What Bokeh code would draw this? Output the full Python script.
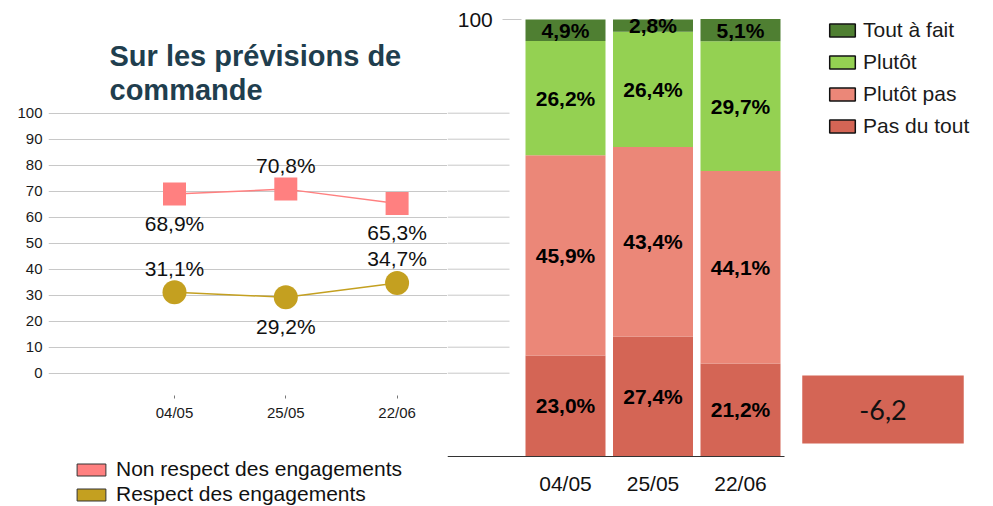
from bokeh.plotting import figure
from bokeh.models import (Range1d, FixedTicker, ColumnDataSource, Legend, LegendItem, Label)
from bokeh.layouts import row
from bokeh.embed import file_html
from bokeh.resources import INLINE
from bokeh.core.properties import value

# ---------------- data ----------------
dates = ["04/05", "25/05", "22/06"]
non_respect = [68.9, 70.8, 65.3]
respect = [31.1, 29.2, 34.7]
non_respect_side = ["below", "above", "below"]
respect_side = ["above", "below", "above"]
left_ticks = [0, 10, 20, 30, 40, 50, 60, 70, 80, 90, 100]
line_series = ["Non respect des engagements", "Respect des engagements"]

bar_series = ["Pas du tout", "Plutôt pas", "Plutôt", "Tout à fait"]
pas_du_tout = [23.0, 27.4, 21.2]
plutot_pas = [45.9, 43.4, 44.1]
plutot = [26.2, 26.4, 29.7]
tout_a_fait = [4.9, 2.8, 5.1]
bar_ticks = [100]
delta_pas_du_tout = -6.2

title_lines = ["Sur les prévisions de", "commande"]

# ---------------- style ----------------
FONT = "Liberation Sans"
C_NR = "#ff8080"
C_R = "#c4a020"
BAR_COLORS = ["#d46555", "#eb8778", "#94d152", "#4f7f32"]
GRID = "#c8c8c8"
TITLE_C = "#1f3e4e"
NAN = float("nan")

H = 506
WA, WB = 447, 545
PAGE_TOP, PAGE_BOTTOM = 0, H


def fmt(v):
    return f"{v:.1f}".replace(".", ",") + "%"


# ---- left chart geometry (page px) ----
L_ZERO, L_UNIT = 372.7, 2.6
L_X0, L_STEP = 174.0, 111.3
A_LEFT, A_RIGHT = 48, WA
ly = Range1d((L_ZERO - PAGE_BOTTOM) / L_UNIT, (L_ZERO - PAGE_TOP) / L_UNIT)
lx = Range1d((A_LEFT - L_X0) / L_STEP, (A_RIGHT - L_X0) / L_STEP)

A = figure(width=WA, height=H, x_range=lx, y_range=ly, output_backend="svg",
           toolbar_location=None, min_border_left=A_LEFT, min_border_right=0,
           min_border_top=0, min_border_bottom=0)
A.outline_line_color = None
A.xgrid.visible = False
A.ygrid.ticker = FixedTicker(ticks=left_ticks)
A.ygrid.grid_line_color = GRID

A.yaxis.ticker = FixedTicker(ticks=left_ticks)
A.yaxis.axis_line_color = None
A.yaxis.major_tick_line_color = None
A.yaxis.minor_tick_line_color = None
A.yaxis.major_tick_out = 0
A.yaxis.major_tick_in = 0
A.yaxis.major_label_standoff = 6
A.yaxis.major_label_text_font = FONT
A.yaxis.major_label_text_font_size = "15px"
A.yaxis.major_label_text_color = "#1a1a1a"

xi = list(range(len(dates)))
A.xaxis.fixed_location = (L_ZERO - 395) / L_UNIT
A.xaxis.ticker = FixedTicker(ticks=xi)
A.xaxis.major_label_overrides = {i: d for i, d in zip(xi, dates)}
A.xaxis.axis_line_color = None
A.xaxis.minor_tick_line_color = None
A.xaxis.major_tick_in = 0
A.xaxis.major_tick_out = 3
A.xaxis.major_tick_line_color = "#777777"
A.xaxis.major_label_standoff = 5
A.xaxis.major_label_text_font = FONT
A.xaxis.major_label_text_font_size = "15px"
A.xaxis.major_label_text_color = "#1a1a1a"

A.line(xi, non_respect, line_color=C_NR, line_width=1.5)
A.scatter(xi, non_respect, marker="square", size=23, fill_color=C_NR, line_color=None)
A.line(xi, respect, line_color=C_R, line_width=1.5)
A.scatter(xi, respect, marker="circle", size=24, fill_color=C_R, line_color=None)

OFF = {"above": -24, "below": 29}
lab = ColumnDataSource(dict(
    x=xi + xi,
    y=non_respect + respect,
    t=[fmt(v) for v in non_respect + respect],
    dy=[OFF[s] for s in non_respect_side + respect_side],
))
A.text("x", "y", text="t", y_offset="dy", source=lab, text_font=value(FONT),
       text_font_size="21px", text_align="center", text_baseline="middle",
       text_color="#111111")

for line, base in zip(title_lines, [55, 89]):
    A.add_layout(Label(x=109 - A_LEFT, y=PAGE_BOTTOM - base, x_units="screen", y_units="screen",
                       text=line, text_font=FONT, text_font_size="29px",
                       text_font_style="bold", text_color=TITLE_C,
                       text_baseline="alphabetic"))

dummy_a = []
for name, c in zip(line_series, [C_NR, C_R]):
    r = A.quad(left=[NAN], right=[NAN], top=[NAN], bottom=[NAN], fill_color=c,
               line_color="#333333", line_width=1)
    dummy_a.append(LegendItem(label=name, renderers=[r]))
leg_a = Legend(items=dummy_a, location=(73 - A_LEFT, 0), orientation="vertical",
               glyph_width=36, glyph_height=15, label_height=24, spacing=1,
               label_standoff=7, padding=0, margin=0, border_line_color=None,
               background_fill_alpha=0, label_text_font=FONT,
               label_text_font_size="21px", label_text_color="#111111")
A.add_layout(leg_a)

# ---- bar chart geometry (page px) ----
B_X0, B_STEP = 565.0, 87.5
B_ZERO, B_UNIT = 455.5, 4.365
B_LEFT, B_RIGHT = WA, WA + WB
bx = Range1d((B_LEFT - B_X0) / B_STEP, (B_RIGHT - B_X0) / B_STEP)
by = Range1d((B_ZERO - PAGE_BOTTOM) / B_UNIT, (B_ZERO - PAGE_TOP) / B_UNIT)

B = figure(width=WB, height=H, x_range=bx, y_range=by, output_backend="svg",
           toolbar_location=None, min_border_left=0, min_border_right=0,
           min_border_top=0, min_border_bottom=0)
B.outline_line_color = None
B.xgrid.visible = False
B.ygrid.visible = False

# continuation of the left chart's grid lines
B.extra_y_ranges = {"ly": Range1d(ly.start, ly.end)}
GRID_STUB_END = (509 - B_X0) / B_STEP
B.segment(x0=[bx.start] * len(left_ticks), x1=[GRID_STUB_END] * len(left_ticks),
          y0=left_ticks, y1=left_ticks, y_range_name="ly", line_color=GRID, line_width=1)

keys = ["pdt", "pp", "p", "taf"]
bsrc = ColumnDataSource(dict(x=xi, pdt=pas_du_tout, pp=plutot_pas, p=plutot, taf=tout_a_fait))
B.vbar_stack(keys, x="x", width=80 / B_STEP, color=BAR_COLORS, line_color=None, source=bsrc)

lx_, ly_, lt_ = [], [], []
series_vals = [pas_du_tout, plutot_pas, plutot, tout_a_fait]
for i in xi:
    bottom = 0.0
    for vals in series_vals:
        v = vals[i]
        lx_.append(i)
        ly_.append(bottom + v / 2)
        lt_.append(fmt(v))
        bottom += v
B.text(lx_, ly_, text=lt_, text_font=value(FONT), text_font_size="21px",
       text_font_style="bold", text_align="center", text_baseline="middle",
       text_color="#000000")

B.xaxis.fixed_location = 0
B.xaxis.bounds = (bx.start, len(dates) - 0.5)
B.xaxis.ticker = FixedTicker(ticks=xi)
B.xaxis.major_label_overrides = {i: d for i, d in zip(xi, dates)}
B.xaxis.axis_line_color = "#333333"
B.xaxis.axis_line_width = 1
B.xaxis.major_tick_line_color = None
B.xaxis.minor_tick_line_color = None
B.xaxis.major_label_standoff = 10
B.xaxis.major_label_text_font = FONT
B.xaxis.major_label_text_font_size = "21px"
B.xaxis.major_label_text_color = "#111111"

B.yaxis.fixed_location = -0.5
B.yaxis.ticker = FixedTicker(ticks=bar_ticks)
B.yaxis.axis_line_color = None
B.yaxis.minor_tick_line_color = None
B.yaxis.major_tick_in = 0
B.yaxis.major_tick_out = 19
B.yaxis.major_tick_line_color = GRID
B.yaxis.major_label_standoff = 10
B.yaxis.major_label_text_font = FONT
B.yaxis.major_label_text_font_size = "21px"
B.yaxis.major_label_text_color = "#111111"

items_b = []
for name, c in zip(bar_series[::-1], BAR_COLORS[::-1]):
    r = B.quad(left=[NAN], right=[NAN], top=[NAN], bottom=[NAN], fill_color=c,
               line_color="#111111", line_width=1.5)
    items_b.append(LegendItem(label=name, renderers=[r]))
leg_b = Legend(items=items_b, location=(826 - B_LEFT, PAGE_BOTTOM - 139.5),
               orientation="vertical",
               glyph_width=32, glyph_height=16, label_height=28, spacing=4,
               label_standoff=5, padding=0, margin=0, border_line_color=None,
               background_fill_alpha=0, label_text_font=FONT,
               label_text_font_size="21px", label_text_color="#1a1a1a")
B.add_layout(leg_b)

B.add_layout(Label(x=882.5 - B_LEFT, y=PAGE_BOTTOM - 409, x_units="screen", y_units="screen",
                   text=f"{delta_pas_du_tout:.1f}".replace(".", ","),
                   text_font="Lato", text_font_size="27px", text_color="#111111",
                   text_align="center", text_baseline="middle",
                   background_fill_color="#d46555", padding=(57, 24)))

layout = row(A, B)
open("out.html", "w").write(file_html(layout, INLINE))
